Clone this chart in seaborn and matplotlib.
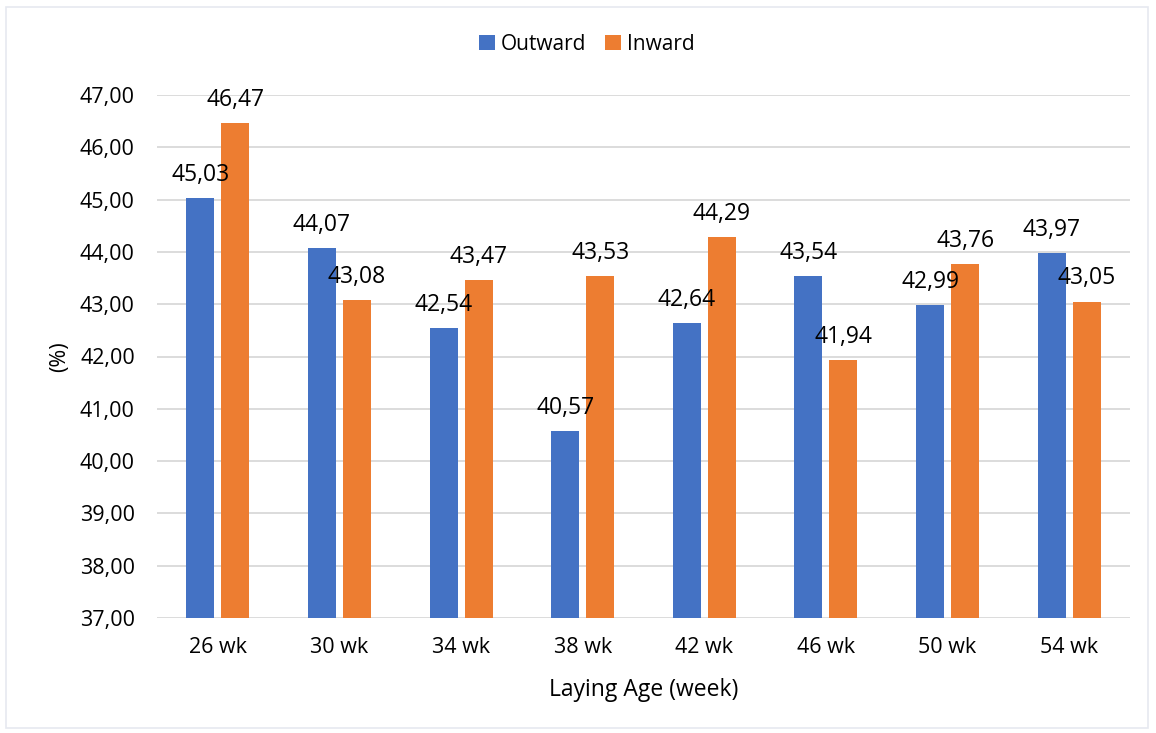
import matplotlib
matplotlib.use("Agg")
import matplotlib.pyplot as plt
import seaborn as sns
import pandas as pd
from matplotlib.patches import Rectangle
from matplotlib.ticker import FuncFormatter, MultipleLocator

categories = ["26 wk", "30 wk", "34 wk", "38 wk", "42 wk", "46 wk", "50 wk", "54 wk"]
outward = [45.03, 44.07, 42.54, 40.57, 42.64, 43.54, 42.99, 43.97]
inward = [46.47, 43.08, 43.47, 43.53, 44.29, 41.94, 43.76, 43.05]
series = ["Outward", "Inward"]
colors = ["#4472C4", "#ED7D31"]

df = pd.DataFrame({
    "age": categories * 2,
    "value": outward + inward,
    "series": [series[0]] * len(categories) + [series[1]] * len(categories),
})

sns.set_theme(style="white")
plt.rcParams["font.family"] = ["Open Sans", "DejaVu Sans"]
plt.rcParams["text.color"] = "black"
plt.rcParams["axes.labelcolor"] = "black"

fig = plt.figure(figsize=(11.56, 7.33), dpi=100)
ax = fig.add_axes([157 / 1156, 1 - 618 / 733, (1130 - 157) / 1156, (618 - 95) / 733])

sns.barplot(data=df, x="age", y="value", hue="series", palette=colors,
            width=0.576, gap=0.2, ax=ax, saturation=1, legend=True, zorder=3,
            linewidth=0)

ax.set_ylim(37, 47)
ax.yaxis.set_major_locator(MultipleLocator(1))
ax.yaxis.set_major_formatter(FuncFormatter(lambda v, p: f"{v:.2f}".replace(".", ",")))
ax.grid(axis="y", color="#D9D9D9", linewidth=1.3, zorder=0)
ax.set_axisbelow(True)
for s in ax.spines.values():
    s.set_visible(False)
ax.tick_params(axis="both", length=0, labelsize=15.5, colors="black")
ax.tick_params(axis="x", pad=14)
ax.tick_params(axis="y", pad=16)
ax.set_xlabel("Laying Age (week)", fontsize=16.5, labelpad=14)
ax.set_ylabel("(%)", fontsize=15.5, labelpad=7)

for cont in ax.containers:
    ax.bar_label(cont, labels=[f"{v:.2f}".replace(".", ",") for v in cont.datavalues],
                 padding=8, fontsize=16.5, color="black")

leg = ax.legend(loc="center", bbox_to_anchor=(587 / 1156, 1 - 44 / 733),
                bbox_transform=fig.transFigure, ncol=2, frameon=False,
                fontsize=15, handlelength=0.75, handleheight=0.75, handletextpad=0.3,
                columnspacing=0.9)

fig.patches.append(Rectangle((6 / 1156, 1 - 728 / 733), 1142 / 1156, 721 / 733,
                             transform=fig.transFigure, fill=False,
                             edgecolor="#E6E9F0", linewidth=1.2))

fig.savefig("out.png", dpi=100)
